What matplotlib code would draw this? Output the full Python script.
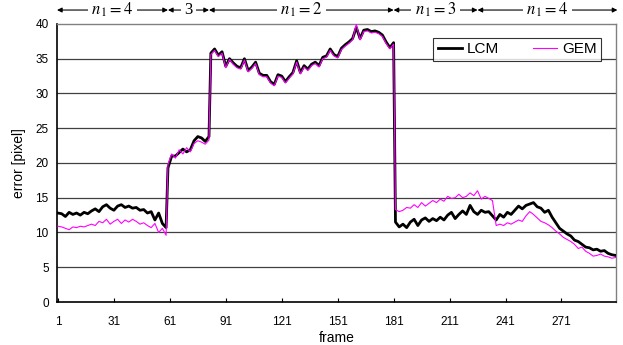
import matplotlib
matplotlib.use('Agg')
import matplotlib.pyplot as plt

plt.rcParams['font.family'] = ['Liberation Sans', 'DejaVu Sans']
plt.rcParams['mathtext.fontset'] = 'stix'

# frames are sampled every 2nd frame per section, sections split at the jumps
frames_a = list(range(1, 60, 2))
frames_b = list(range(60, 83, 2))
frames_c = list(range(83, 182, 2))
frames_d = list(range(182, 301, 2))
frames = frames_a + frames_b + frames_c + frames_d

lcm_a = [12.8, 12.7, 12.3, 12.9, 12.6, 12.8, 12.5, 12.9, 12.7, 13.1,
         13.4, 13.0, 13.7, 14.0, 13.5, 13.2, 13.8, 14.0, 13.6, 13.8,
         13.5, 13.6, 13.2, 13.3, 12.8, 13.0, 11.8, 12.8, 11.3, 10.7]
gem_a = [10.9, 10.8, 10.6, 10.4, 10.8, 10.7, 10.9, 10.8, 11.0, 11.2,
         11.0, 11.6, 11.4, 11.9, 11.2, 11.6, 11.9, 11.3, 11.8, 11.5,
         11.9, 11.6, 11.2, 11.4, 11.0, 10.7, 11.3, 10.0, 10.6, 9.6]

lcm_b = [19.3, 21.0, 21.0, 21.5, 22.0, 21.6, 21.9, 23.2, 23.8, 23.6, 23.1, 23.8]
gem_b = [19.8, 21.3, 20.7, 21.9, 21.3, 22.2, 21.6, 22.8, 23.2, 23.0, 22.7, 23.3]

lcm_c = [35.8, 36.4, 35.5, 36.0, 33.9, 35.0, 34.4, 33.9, 33.7, 35.0,
         33.3, 33.8, 34.5, 32.9, 32.6, 32.6, 31.7, 31.3, 32.7, 32.5,
         31.7, 32.4, 33.0, 34.7, 33.0, 34.0, 33.5, 34.2, 34.5, 34.0,
         35.2, 35.4, 36.4, 35.6, 35.3, 36.5, 37.0, 37.4, 37.9, 39.5,
         37.9, 39.1, 39.2, 38.9, 39.0, 38.8, 38.4, 37.4, 36.6, 37.3]
gem_c = [35.6, 36.2, 35.3, 35.8, 33.7, 34.9, 34.2, 33.7, 33.5, 34.8,
         33.1, 33.6, 34.3, 32.7, 32.4, 32.4, 31.5, 31.1, 32.5, 32.3,
         31.5, 32.2, 32.8, 34.5, 32.8, 33.8, 33.3, 34.0, 34.3, 33.8,
         35.0, 35.2, 36.2, 35.4, 35.1, 36.3, 36.8, 37.2, 37.7, 40.0,
         37.7, 38.9, 39.0, 38.7, 38.8, 38.6, 38.2, 37.2, 36.4, 37.1]

lcm_d = [11.5, 10.8, 11.2, 10.7, 11.5, 11.9, 11.0, 11.8, 12.1, 11.6,
         12.0, 11.7, 12.2, 11.8, 12.5, 12.9, 12.0, 12.6, 13.1, 12.6,
         13.9, 13.0, 12.6, 13.2, 12.9, 13.0, 12.4, 11.8, 12.6, 12.2,
         12.9, 12.6, 13.2, 13.8, 13.4, 13.9, 14.1, 14.3, 13.7, 13.5,
         12.9, 13.2, 12.2, 11.4, 10.6, 10.2, 9.8, 9.5, 8.9, 8.7,
         8.3, 7.9, 7.8, 7.5, 7.6, 7.3, 7.4, 7.0, 6.8, 6.7]
gem_d = [13.3, 13.0, 13.2, 13.6, 13.5, 14.0, 13.6, 14.3, 13.8, 14.2,
         14.6, 14.3, 14.8, 14.5, 15.2, 14.9, 15.0, 15.5, 15.0, 15.2,
         15.7, 15.3, 16.0, 14.8, 15.2, 14.9, 14.6, 11.0, 11.2, 11.0,
         11.4, 11.2, 11.5, 11.8, 11.6, 12.4, 13.0, 12.6, 12.1, 11.6,
         11.4, 11.1, 10.7, 10.2, 9.8, 9.3, 9.0, 8.7, 8.3, 7.7,
         7.9, 7.3, 7.0, 6.6, 6.7, 6.9, 6.6, 6.5, 6.3, 6.4]

lcm = lcm_a + lcm_b + lcm_c + lcm_d
gem = gem_a + gem_b + gem_c + gem_d

xticks = [1, 31, 61, 91, 121, 151, 181, 211, 241, 271]
yticks = [0, 5, 10, 15, 20, 25, 30, 35, 40]

# sections of the n1 annotation above the plot
sec_edges = [0.5, 60, 82, 181, 226, 301]
sec_labels = [r'$n_{\,1} = 4$', '3', r'$n_{\,1} = 2$', r'$n_{\,1} = 3$', r'$n_{\,1} = 4$']

fig = plt.figure(figsize=(6.23, 3.45), dpi=100)
ax = fig.add_axes([0.0915, 0.1246, 0.898, 0.806])

for y in yticks[1:-1]:
    ax.axhline(y, color='#404040', lw=0.9, zorder=1)

ax.plot(frames, lcm, color='black', lw=2.0, label='LCM', zorder=3)
ax.plot(frames, gem, color='#FF00FF', lw=0.8, label='GEM', zorder=4)

ax.set_xlim(0.5, 300.5)
ax.set_ylim(0, 40)
ax.set_xticks(xticks)
ax.set_yticks(yticks)
ax.tick_params(axis='x', direction='in', length=3, labelsize=8.5, pad=10)
ax.tick_params(axis='y', length=0, labelsize=8.5, pad=6)
ax.set_xlabel('frame', fontsize=10, labelpad=2)
ax.set_ylabel('error [pixel]', fontsize=10, labelpad=7)

for side in ['top', 'right']:
    ax.spines[side].set_color('#808080')
    ax.spines[side].set_linewidth(1.0)
for side in ['left', 'bottom']:
    ax.spines[side].set_color('black')
    ax.spines[side].set_linewidth(1.2)

leg = ax.legend(loc='upper right', ncol=2, frameon=True, fancybox=False,
                fontsize=11, handlelength=1.6, handletextpad=0.3,
                columnspacing=2.2, borderpad=0.3,
                bbox_to_anchor=(0.986, 0.978))
leg.get_frame().set_edgecolor('black')
leg.get_frame().set_linewidth(0.8)

ya = 1.05
trans = ax.get_xaxis_transform()
for i, lab in enumerate(sec_labels):
    x0, x1 = sec_edges[i], sec_edges[i + 1]
    ax.annotate('', xy=(x0, ya), xytext=(x1, ya), xycoords=trans,
                textcoords=trans,
                arrowprops=dict(arrowstyle='<|-|>', color='black', lw=0.8,
                                mutation_scale=7, shrinkA=0, shrinkB=0),
                annotation_clip=False)
    ax.text((x0 + x1) / 2, ya, lab, transform=trans, ha='center',
            va='center', fontsize=12, family='Liberation Serif',
            bbox=dict(fc='white', ec='none', pad=2.5), zorder=5)

fig.savefig('out.png', dpi=100)
